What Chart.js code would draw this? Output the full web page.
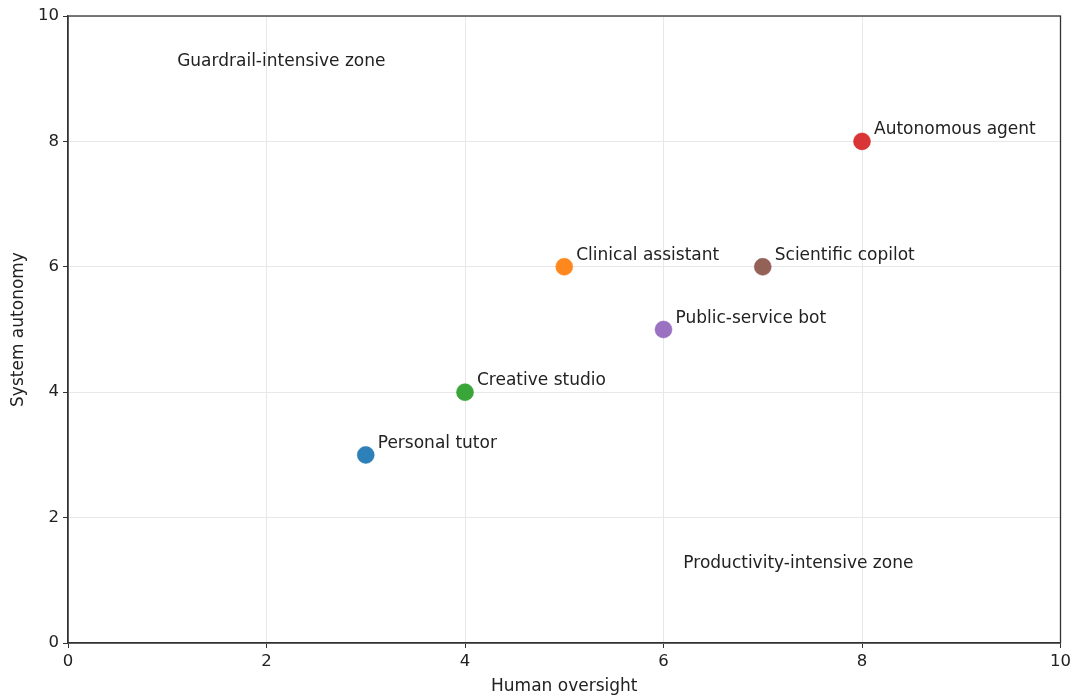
<!DOCTYPE html>
<html>
<head>
    <meta charset="UTF-8">
    <title>Oversight vs autonomy</title>
    <script src="https://cdn.jsdelivr.net/npm/chart.js"></script>
    <style>
        html, body { margin: 0; padding: 0; background: #fff; }
        .chart-container { width: 1075px; height: 697px; }
    </style>
</head>
<body>
    <div class="chart-container">
        <canvas id="scatterChart"></canvas>
    </div>

    <script type="text/javascript">
        const systems = ['Personal tutor', 'Creative studio', 'Clinical assistant', 'Public-service bot', 'Scientific copilot', 'Autonomous agent'];
        const oversight = [3, 4, 5, 6, 7, 8];
        const autonomy = [3, 4, 6, 5, 6, 8];
        const pointColors = ['#1f77b4', '#2ca02c', '#ff7f0e', '#9467bd', '#8c564b', '#d62728'];

        const zoneLabels = ['Guardrail-intensive zone', 'Productivity-intensive zone'];
        const zoneX = [1.1, 6.2];
        const zoneY = [9.2, 1.2];

        const tickValues = [0, 2, 4, 6, 8, 10];

        const fontFamily = '"DejaVu Sans", sans-serif';
        const textColor = '#222';

        const annotatePlugin = {
            id: 'annotate',
            afterDatasetsDraw(chart) {
                const ctx = chart.ctx;
                const area = chart.chartArea;
                const xs = chart.scales.x;
                const ys = chart.scales.y;
                ctx.save();
                // frame round the plot
                ctx.strokeStyle = '#333';
                ctx.lineWidth = 1.3;
                ctx.strokeRect(area.left, area.top, area.right - area.left, area.bottom - area.top);

                ctx.font = '17px ' + fontFamily;
                ctx.fillStyle = textColor;
                ctx.textAlign = 'left';
                ctx.textBaseline = 'alphabetic';

                const meta = chart.getDatasetMeta(0);
                meta.data.forEach((pt, i) => {
                    ctx.fillText(systems[i], pt.x + 12, pt.y - 7);
                });

                zoneLabels.forEach((label, i) => {
                    ctx.fillText(label, xs.getPixelForValue(zoneX[i]), ys.getPixelForValue(zoneY[i]));
                });
                ctx.restore();
            }
        };

        function createChart() {
            const ctx = document.getElementById('scatterChart').getContext('2d');
            new Chart(ctx, {
                type: 'scatter',
                data: {
                    datasets: [{
                        label: 'Systems',
                        data: oversight.map((x, i) => ({ x: x, y: autonomy[i] })),
                        backgroundColor: pointColors.map(c => c + 'ee'),
                        borderColor: pointColors,
                        borderWidth: 0.5,
                        pointRadius: 8.5,
                        pointHoverRadius: 8.5
                    }]
                },
                plugins: [annotatePlugin],
                options: {
                    responsive: true,
                    maintainAspectRatio: false,
                    animation: false,
                    layout: {
                        padding: { top: 16, right: 14, left: 0, bottom: 0 }
                    },
                    plugins: {
                        legend: { display: false },
                        tooltip: { enabled: false }
                    },
                    scales: {
                        x: {
                            type: 'linear',
                            min: 0,
                            max: 10,
                            afterBuildTicks: (scale) => {
                                scale.ticks = tickValues.map(v => ({ value: v }));
                            },
                            afterFit: (scale) => { scale.height = 54; },
                            grid: { color: '#e8e8e8', lineWidth: 1, tickLength: 5, tickColor: '#333' },
                            border: { color: '#333', width: 1.3 },
                            ticks: { color: textColor, font: { family: fontFamily, size: 16.5 }, padding: 4, maxRotation: 0 },
                            title: {
                                display: true,
                                text: 'Human oversight',
                                color: textColor,
                                font: { family: fontFamily, size: 17 },
                                padding: { top: 2, bottom: 0 }
                            }
                        },
                        y: {
                            type: 'linear',
                            min: 0,
                            max: 10,
                            afterBuildTicks: (scale) => {
                                scale.ticks = tickValues.map(v => ({ value: v }));
                            },
                            afterFit: (scale) => { scale.width = 68; },
                            grid: { color: '#e8e8e8', lineWidth: 1, tickLength: 5, tickColor: '#333' },
                            border: { color: '#333', width: 1.3 },
                            ticks: { color: textColor, font: { family: fontFamily, size: 16.5 }, padding: 4 },
                            title: {
                                display: true,
                                text: 'System autonomy',
                                color: textColor,
                                font: { family: fontFamily, size: 17 },
                                padding: { top: 8, bottom: 0 }
                            }
                        }
                    }
                }
            });
        }

        window.onload = createChart;
    </script>
</body>
</html>
